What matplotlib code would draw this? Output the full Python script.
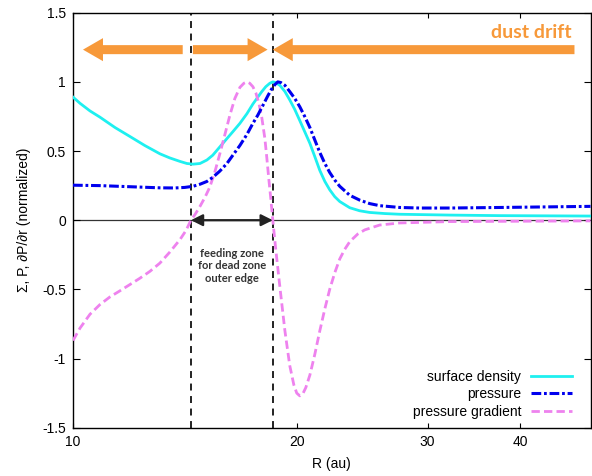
import matplotlib
matplotlib.use("Agg")
import matplotlib.pyplot as plt
from matplotlib.ticker import FixedLocator, NullLocator, FixedFormatter

plt.rcParams['font.family'] = ['Liberation Sans', 'DejaVu Sans']
plt.rcParams['lines.scale_dashes'] = False

# ---- data ----
sd_R = [10.00, 10.22, 10.54, 10.87, 11.39, 11.93, 12.49, 13.09, 13.50, 13.93, 14.23,
        14.50, 14.82, 15.14, 15.42, 15.76, 16.11, 16.41, 16.77, 17.14, 17.46, 17.73,
        17.95, 18.17, 18.40, 18.57, 18.74, 18.98, 19.28, 19.57, 19.88, 20.19, 20.50,
        20.83, 21.15, 21.48, 21.82, 22.15, 22.50, 22.85, 23.57, 24.31, 25.07, 26.27,
        27.51, 32.12, 37.49, 49.69]
sd_V = [0.89, 0.845, 0.79, 0.745, 0.67, 0.605, 0.54, 0.48, 0.45, 0.425, 0.41,
        0.405, 0.41, 0.435, 0.47, 0.53, 0.59, 0.64, 0.70, 0.77, 0.84, 0.89,
        0.93, 0.965, 0.99, 1.00, 0.995, 0.975, 0.93, 0.87, 0.80, 0.72, 0.64,
        0.556, 0.46, 0.36, 0.28, 0.22, 0.17, 0.135, 0.09, 0.068, 0.056, 0.048,
        0.043, 0.037, 0.033, 0.03]

p_R = [10.00, 10.87, 11.93, 13.09, 13.71, 14.14, 14.50, 14.82, 15.14, 15.42, 15.76,
       16.11, 16.41, 16.77, 17.14, 17.46, 17.73, 18.01, 18.29, 18.51, 18.69, 18.86,
       19.04, 19.28, 19.57, 19.88, 20.19, 20.50, 20.83, 21.15, 21.48, 21.82, 22.15,
       22.50, 22.85, 23.57, 24.31, 25.07, 25.86, 27.51, 29.27, 32.12, 37.49, 49.69]
p_V = [0.253, 0.25, 0.242, 0.234, 0.233, 0.237, 0.245, 0.26, 0.28, 0.31, 0.355,
       0.41, 0.47, 0.54, 0.62, 0.70, 0.76, 0.83, 0.90, 0.95, 0.98, 1.00,
       0.995, 0.975, 0.93, 0.88, 0.82, 0.75, 0.67, 0.58, 0.49, 0.41, 0.345,
       0.29, 0.245, 0.18, 0.145, 0.12, 0.105, 0.092, 0.088, 0.088, 0.092, 0.10]

g_R = [10.00, 10.22, 10.54, 10.87, 11.21, 11.57, 11.93, 12.30, 12.69, 13.09, 13.50,
       13.93, 14.19, 14.41, 14.59, 14.82, 15.05, 15.28, 15.52, 15.76, 16.01, 16.26,
       16.51, 16.77, 16.98, 17.14, 17.29, 17.46, 17.62, 17.78, 17.95, 18.12, 18.23,
       18.34, 18.46, 18.57, 18.74, 18.98, 19.28, 19.57, 19.82, 20.00, 20.19, 20.38,
       20.57, 20.83, 21.15, 21.48, 21.82, 22.15, 22.50, 22.85, 23.21, 23.57, 24.16,
       24.69, 25.86, 27.51, 32.12, 49.69]
g_V = [-0.87, -0.78, -0.68, -0.61, -0.555, -0.51, -0.465, -0.42, -0.37, -0.31, -0.23,
       -0.14, -0.075, 0.0, 0.04, 0.10, 0.165, 0.24, 0.35, 0.48, 0.62, 0.76,
       0.88, 0.96, 0.99, 1.00, 0.99, 0.965, 0.92, 0.85, 0.74, 0.59, 0.45,
       0.30, 0.15, 0.0, -0.21, -0.48, -0.80, -1.05, -1.19, -1.25, -1.27, -1.255,
       -1.21, -1.12, -0.97, -0.80, -0.64, -0.50, -0.38, -0.28, -0.21, -0.155, -0.10,
       -0.07, -0.035, -0.02, -0.01, -0.005]

zone_inner = 14.41
zone_outer = 18.57

x_ticks = [10, 20, 30, 40]
x_ticklabels = ['10', '20', '30', '40']
y_ticks = [-1.5, -1, -0.5, 0, 0.5, 1, 1.5]
y_ticklabels = ['-1.5', '-1', '-0.5', '0', '0.5', '1', '1.5']

labels = ['surface density', 'pressure', 'pressure gradient']
colors = ['#1EF0F0', '#0000EE', '#EE82EE']
orange = '#F7993A'

# ---- figure ----
fig = plt.figure(figsize=(5.92, 4.76), dpi=100)
ax = fig.add_axes([0.1233, 0.1015, 0.8742, 0.8718])

ax.axhline(0, color='#333333', lw=0.9, zorder=1)
ax.axvline(zone_inner, color='#222222', lw=1.4, dashes=(5, 4), zorder=2)
ax.axvline(zone_outer, color='#222222', lw=1.4, dashes=(5, 4), zorder=2)

ax.plot(sd_R, sd_V, color=colors[0], lw=2.0, label=labels[0], zorder=3,
        solid_joinstyle='round')
ax.plot(p_R, p_V, color=colors[1], lw=2.2, dashes=(7, 2, 2, 2), label=labels[1], zorder=4)
ax.plot(g_R, g_V, color=colors[2], lw=2.0, dashes=(6, 3), label=labels[2], zorder=3)

ax.set_xscale('log')
ax.set_xlim(10, 49.69)
ax.set_ylim(-1.5, 1.5)
ax.xaxis.set_major_locator(FixedLocator(x_ticks))
ax.xaxis.set_major_formatter(FixedFormatter(x_ticklabels))
ax.xaxis.set_minor_locator(NullLocator())
ax.set_yticks(y_ticks)
ax.set_yticklabels(y_ticklabels)
ax.tick_params(direction='in', length=5, width=0.8, top=True, right=True,
               labelsize=10, pad=5, colors='black')
ax.tick_params(axis='x', length=3.5)
for s in ax.spines.values():
    s.set_linewidth(1.0)

ax.set_xlabel('R (au)', fontsize=10, labelpad=6)
ax.set_ylabel('Σ, P, ∂P/∂r (normalized)', fontsize=10, labelpad=8)

# dust drift arrows (axes fraction)
ya = 0.911
astyle = "simple,head_length=14.4,head_width=16.6,tail_width=6.5"
for tail, tip in [(0.212, 0.0193), (0.2317, 0.376), (0.969, 0.386)]:
    ax.annotate('', xy=(tip, ya), xytext=(tail, ya), xycoords='axes fraction',
                textcoords='axes fraction',
                arrowprops=dict(arrowstyle=astyle, color=orange, lw=0,
                                mutation_scale=1, shrinkA=0, shrinkB=0), zorder=5)
ax.text(0.964, 0.952, 'dust drift', transform=ax.transAxes, ha='right', va='center',
        fontsize=14, fontweight='bold', color=orange, family=['Lato', 'DejaVu Sans'])

# feeding zone arrow
ax.annotate('', xy=(zone_outer, 0), xytext=(zone_inner, 0),
            arrowprops=dict(arrowstyle='<|-|>,head_length=0.7,head_width=0.35',
                            color='#222222', lw=1.6, mutation_scale=10,
                            shrinkA=0, shrinkB=0), zorder=6)
ax.text(16.36, -0.33, 'feeding zone\nfor dead zone\nouter edge', ha='center', va='center',
        fontsize=8, fontweight='bold', color='#333333', linespacing=1.2,
        family=['Lato', 'DejaVu Sans'])

leg = ax.legend(loc='lower right', bbox_to_anchor=(0.965, 0.022), frameon=False,
                markerfirst=False, fontsize=10, handlelength=3.0, handletextpad=0.7,
                labelspacing=0.25, borderaxespad=0, borderpad=0)

fig.savefig('out.png', dpi=100)
